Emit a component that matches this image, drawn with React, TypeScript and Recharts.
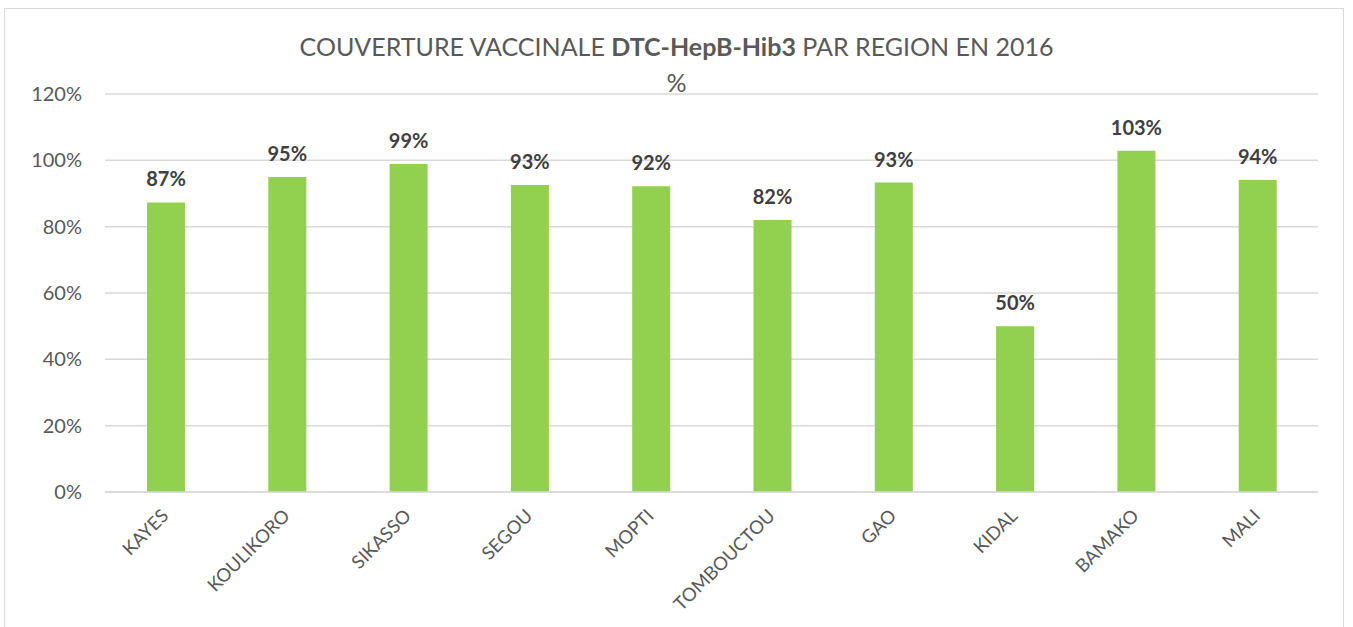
import { Bar, BarChart, CartesianGrid, LabelList, XAxis, YAxis } from "recharts";

const regions = [
  "KAYES",
  "KOULIKORO",
  "SIKASSO",
  "SEGOU",
  "MOPTI",
  "TOMBOUCTOU",
  "GAO",
  "KIDAL",
  "BAMAKO",
  "MALI",
];
const coverage = [0.873, 0.95, 0.989, 0.926, 0.922, 0.82, 0.933, 0.5, 1.029, 0.941];
const yTicks = [0, 0.2, 0.4, 0.6, 0.8, 1.0, 1.2];

const FONT = "Lato, 'Open Sans', sans-serif";
const TEXT = "#595959";

const data = regions.map((region, i) => ({ region, value: coverage[i] }));

const pct = (v: number) => `${Math.round(v * 100)}%`;

function RegionTick({ x, y, payload }: any) {
  const tx = x + 4;
  const ty = y + 17;
  return (
    <text
      x={tx}
      y={ty}
      transform={`rotate(-45, ${tx}, ${ty})`}
      textAnchor="end"
      fontFamily={FONT}
      fontSize={18.5}
      fill={TEXT}
    >
      {payload.value}
    </text>
  );
}

export default function App() {
  return (
    <div style={{ position: "relative", width: 1353, height: 627, background: "#fff" }}>
      <style>{`body{margin:0}`}</style>
      <div
        style={{
          position: "absolute",
          left: 4,
          top: 8,
          width: 1340,
          height: 640,
          border: "1.5px solid #d9d9d9",
          boxSizing: "border-box",
        }}
      />
      <div
        style={{
          position: "absolute",
          left: 0,
          top: 28,
          width: 1353,
          textAlign: "center",
          fontFamily: FONT,
          fontSize: 25,
          lineHeight: "36px",
          color: TEXT,
        }}
      >
        COUVERTURE VACCINALE <b>DTC-HepB-Hib3</b> PAR REGION EN 2016
        <br />%
      </div>
      <div style={{ position: "absolute", left: 0, top: 0 }}>
        <BarChart
          width={1353}
          height={627}
          data={data}
          margin={{ top: 94, right: 35, bottom: 105, left: 0 }}
          barSize={38}
        >
          <CartesianGrid vertical={false} stroke="#d9d9d9" strokeWidth={1.5} />
          <XAxis
            dataKey="region"
            height={30}
            axisLine={{ stroke: "#d9d9d9", strokeWidth: 1.5 }}
            tickLine={false}
            interval={0}
            tick={<RegionTick />}
          />
          <YAxis
            width={105}
            domain={[0, 1.2]}
            ticks={yTicks}
            tickFormatter={pct}
            axisLine={false}
            tickLine={false}
            tickMargin={17}
            tick={{ fontFamily: FONT, fontSize: 20, fill: TEXT }}
          />
          <Bar dataKey="value" fill="#92D050" isAnimationActive={false}>
            <LabelList
              dataKey="value"
              position="top"
              offset={16}
              formatter={(v: any) => pct(Number(v))}
              style={{ fontFamily: FONT, fontSize: 20, fontWeight: 700, fill: "#404040" }}
            />
          </Bar>
        </BarChart>
      </div>
    </div>
  );
}
